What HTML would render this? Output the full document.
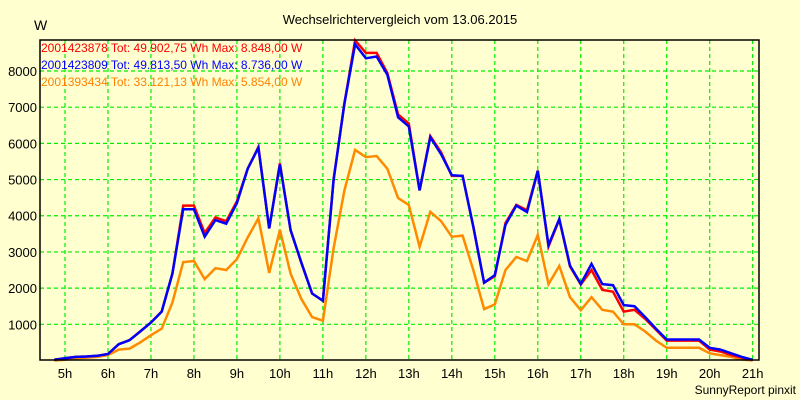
<!DOCTYPE html>
<html><head><meta charset="utf-8"><style>
body{margin:0;background:#ffffd0;}
svg{display:block;font-family:"Liberation Sans",sans-serif;}
</style></head><body>
<svg id="chart" width="800" height="400" xmlns="http://www.w3.org/2000/svg">
<rect x="0" y="0" width="800" height="400" fill="#ffffd0"/>
<text x="400" y="24" text-anchor="middle" font-size="13" fill="#000">Wechselrichtervergleich vom 13.06.2015</text>
<text x="34" y="30" font-size="14" fill="#000">W</text>
<g id="grid"></g>
<g id="ticks"></g>
<g id="series"></g>
<rect x="40" y="40" width="719" height="320" fill="none" stroke="#000" stroke-width="1.5"/>
<g font-size="12">
<text x="41" y="52" fill="#ff0000">2001423878 Tot: 49.902,75 Wh Max: 8.848,00 W</text>
<text x="41" y="69" fill="#0000ff">2001423809 Tot: 49.813,50 Wh Max: 8.736,00 W</text>
<text x="41" y="86" fill="#ff8000">2001393434 Tot: 33.121,13 Wh Max: 5.854,00 W</text>
</g>
<text x="796" y="394" text-anchor="end" font-size="12" fill="#000">SunnyReport pinxit</text>
</svg>
<script>
const startHour = 4.75;
const stepHours = 0.25;
const xTicks = ["5h","6h","7h","8h","9h","10h","11h","12h","13h","14h","15h","16h","17h","18h","19h","20h","21h"];
const xTickHours = [5,6,7,8,9,10,11,12,13,14,15,16,17,18,19,20,21];
const yTicks = [1000,2000,3000,4000,5000,6000,7000,8000];
const redValues = [20,60,100,110,130,180,450,560,800,1050,1350,2400,4280,4280,3520,3950,3850,4400,5300,5900,3650,5450,3600,2700,1850,1650,5000,7100,8848,8500,8500,7950,6800,6550,4700,6200,5750,5100,5100,3700,2150,2330,3800,4300,4150,5250,3150,3900,2600,2100,2500,1950,1900,1350,1400,1150,850,550,550,550,550,300,250,150,80,20];
const blueValues = [20,60,100,110,130,180,450,560,800,1050,1350,2400,4180,4180,3420,3880,3780,4350,5300,5880,3650,5420,3600,2700,1850,1650,5000,7100,8736,8350,8400,7900,6720,6470,4700,6170,5700,5120,5100,3700,2150,2360,3750,4280,4100,5240,3190,3910,2620,2120,2670,2110,2080,1530,1500,1200,880,580,580,580,580,350,300,200,100,20];
const orangeValues = [0,20,60,80,100,150,300,330,500,700,880,1600,2720,2750,2250,2550,2500,2800,3400,3930,2420,3610,2400,1700,1200,1100,3100,4700,5820,5620,5650,5300,4490,4300,3140,4110,3850,3420,3450,2500,1420,1550,2500,2860,2750,3470,2110,2610,1750,1390,1750,1400,1350,1000,1000,800,550,350,350,350,350,200,150,100,30,0];

const NS="http://www.w3.org/2000/svg";
const x = h => 65 + (h-5)*42.98;
const y = v => 360.5 - v*0.03619;
const grid=document.getElementById('grid'), ticks=document.getElementById('ticks'), series=document.getElementById('series');
function mk(tag, attrs, parent){const e=document.createElementNS(NS,tag);for(const k in attrs)e.setAttribute(k,attrs[k]);parent.appendChild(e);return e;}
xTickHours.forEach((h,i)=>{
  const l=mk('line',{x1:x(h),x2:x(h),y1:40,y2:360,stroke:'#00ee00','stroke-width':1.2,'stroke-dasharray':'4,3'},grid);
  
  
  const t=mk('text',{x:x(h),y:378,'text-anchor':'middle','font-size':13,fill:'#000'},ticks);
  t.textContent=xTicks[i];
  
  
});
yTicks.forEach(v=>{
  const l=mk('line',{x1:40,x2:759,y1:y(v),y2:y(v),stroke:'#00ee00','stroke-width':1.2,'stroke-dasharray':'4,3'},grid);
  
  
  const t=mk('text',{x:37,y:y(v)+5,'text-anchor':'end','font-size':13,fill:'#000'},ticks);
  t.textContent=String(v);
  
  
});
function drawLine(vals,color,name){
  const pts=vals.map((v,i)=>x(startHour+i*stepHours).toFixed(1)+','+y(v).toFixed(1)).join(' ');
  const p=mk('polyline',{points:pts,fill:'none',stroke:color,'stroke-width':2.5,'stroke-linejoin':'miter'},series);
  
  
}
drawLine(orangeValues,'#ff8a00','series-2001393434');
drawLine(redValues,'#ff0000','series-2001423878');
drawLine(blueValues,'#0000ff','series-2001423809');
</script>
</body></html>
